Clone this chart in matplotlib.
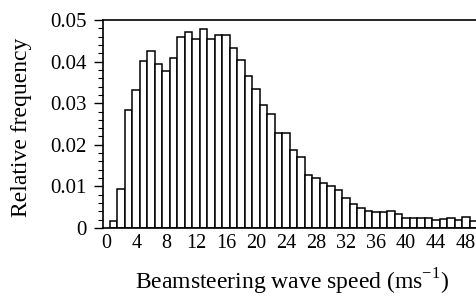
# Histogram of beamsteering wave speed
import matplotlib
matplotlib.use('Agg')
import matplotlib.pyplot as plt
from matplotlib.ticker import MultipleLocator, FuncFormatter

# bin centres (ms-1) and relative frequency
speed = list(range(1, 50))
freq = [0.0018, 0.0093, 0.0284, 0.0332, 0.0402, 0.0425, 0.0394, 0.0377, 0.0408,
        0.0459, 0.0470, 0.0454, 0.0478, 0.0455, 0.0465, 0.0465, 0.0433, 0.0405,
        0.0366, 0.0335, 0.0296, 0.0273, 0.0229, 0.0229, 0.0188, 0.0170, 0.0127,
        0.0121, 0.0107, 0.0102, 0.0091, 0.0071, 0.0057, 0.0047, 0.0040, 0.0038,
        0.0038, 0.0042, 0.0033, 0.0023, 0.0023, 0.0024, 0.0025, 0.0019, 0.0021,
        0.0023, 0.0019, 0.0026, 0.0016]
xticks = list(range(0, 49, 4))

plt.rcParams['font.family'] = ['Liberation Serif', 'DejaVu Serif']
plt.rcParams['mathtext.fontset'] = 'custom'
plt.rcParams['mathtext.rm'] = 'Liberation Serif'

fig = plt.figure(figsize=(4.77, 2.96), dpi=100)
ax = fig.add_axes([0.2149, 0.2297, 0.7851, 0.7027])

ax.bar(speed, freq, width=1.0, color='white', edgecolor='black', linewidth=1.1)

ax.set_xlim(-0.5, 49.5)
ax.set_ylim(0, 0.05)
ax.set_xticks(xticks)
ax.yaxis.set_major_locator(MultipleLocator(0.01))
ax.yaxis.set_minor_locator(MultipleLocator(0.002))
ax.yaxis.set_major_formatter(FuncFormatter(lambda v, p: '0' if abs(v) < 1e-9 else f'{v:.2f}'))

ax.tick_params(axis='x', length=0, labelsize=14.5, pad=4)
ax.tick_params(axis='y', which='major', length=6.5, width=1.0, direction='out', labelsize=15, pad=5)
ax.tick_params(axis='y', which='minor', length=3.5, width=0.8, direction='out')

ax.spines['right'].set_visible(False)
for s in ['left', 'top', 'bottom']:
    ax.spines[s].set_linewidth(1.2)

ax.set_xlabel('Beamsteering wave speed (ms$^{\\mathregular{-1}}$)', fontsize=17)
ax.xaxis.label.set_va('baseline')
ax.xaxis.set_label_coords(0.506, -0.298)
ax.set_ylabel('Relative frequency', fontsize=17)
ax.yaxis.label.set_va('center')
ax.yaxis.set_label_coords(-0.2176, 0.486)

fig.savefig('out.png', dpi=100)
